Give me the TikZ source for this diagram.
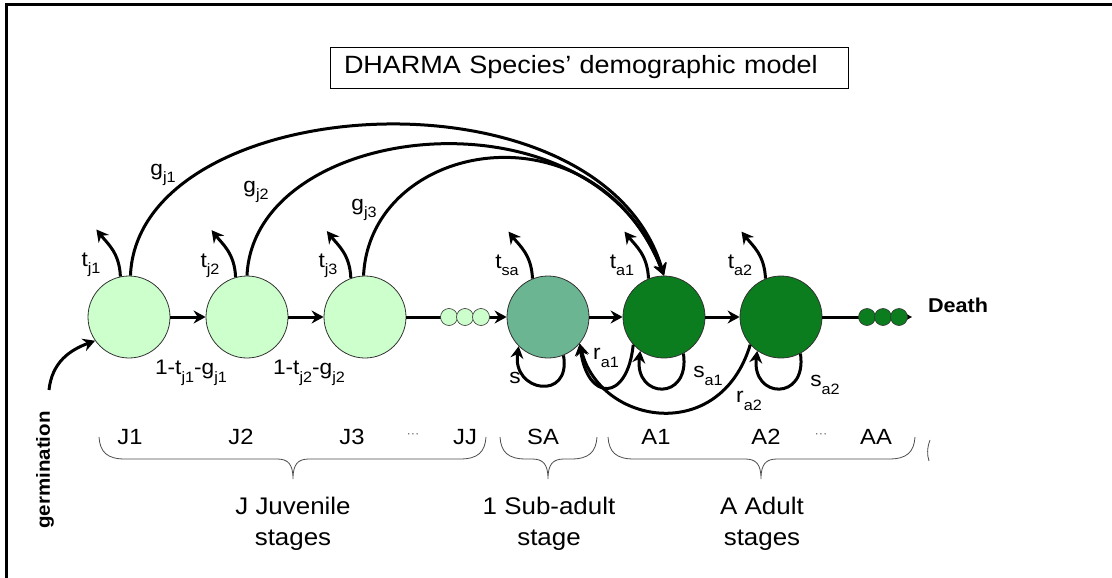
\documentclass[tikz,border=0pt]{standalone}
\usepackage{fontspec}
\setmainfont{Liberation Sans}[FakeStretch=1.08]
\usetikzlibrary{arrows.meta,calc}
\definecolor{jcol}{RGB}{204,255,204}
\definecolor{sacol}{RGB}{107,181,147}
\definecolor{acol}{RGB}{12,125,30}
\newcommand\sbx[1]{\raisebox{-0.35em}{\fontsize{15}{15}\selectfont #1}}
\newcommand\mybrace[3]{%
 \draw[brace] (#1,437) .. controls (#1+1,452) and (#1+8,459) .. (#1+26,459) -- (#2-16,459)
   .. controls (#2-5,459) and (#2,464) .. (#2,479)
   .. controls (#2,464) and (#2+5,459) .. (#2+16,459) -- (#3-26,459)
   .. controls (#3-8,459) and (#3-1,452) .. (#3,437);}
\begin{document}
\begin{tikzpicture}[x=1pt,y=-1pt,
 stage/.style={circle,draw=black!80,line width=0.8pt,minimum size=82pt,inner sep=0},
 dot/.style={circle,draw=black!80,line width=0.6pt,minimum size=17pt,inner sep=0},
 arr/.style={line width=3pt,-{Stealth[length=12pt,width=13pt,inset=4pt]}},
 lbl/.style={font=\fontsize{21}{21}\selectfont,inner sep=0},
 stg/.style={font=\fontsize{22}{22}\selectfont,inner sep=0},
 ell/.style={font=\fontsize{12}{12}\selectfont,text=black!60,inner sep=0},
 grp/.style={font=\fontsize{24}{31}\selectfont,align=center,inner sep=0},
 brace/.style={draw=black!70,line width=0.8pt},
]
\useasboundingbox (0,0) rectangle (1112,578);
\draw[line width=3pt] (6,578) -- (6,5) -- (1112,5);

% title
\node[draw,line width=0.8pt,text width=490pt,align=left,inner xsep=14pt,minimum height=41pt,
  font=\fontsize{25}{25}\selectfont] (title) at (589,67.5) {DHARMA Species’ demographic model};

% stages
\node[stage,fill=jcol] (J1) at (129,317) {};
\node[stage,fill=jcol] (J2) at (247,317) {};
\node[stage,fill=jcol] (J3) at (365,317) {};
\node[stage,fill=sacol] (SA) at (548,317) {};
\node[stage,fill=acol] (A1) at (664,317) {};
\node[stage,fill=acol] (A2) at (781,317) {};
\coordinate (dend) at (912,317);

% main line
\draw[arr] (J1) -- (J2);
\draw[arr] (J2) -- (J3);
\draw[arr] (J3) -- (SA);
\draw[arr] (SA) -- (A1);
\draw[arr] (A1) -- (A2);
\draw[arr] (A2) -- (dend);

\node[dot,fill=jcol] (d1) at (449,317) {};
\node[dot,fill=jcol] (d2) at (465,317) {};
\node[dot,fill=jcol] (d3) at (481,317) {};
\node[dot,fill=acol] (e1) at (867,317) {};
\node[dot,fill=acol] (e2) at (883,317) {};
\node[dot,fill=acol] (e3) at (899,317) {};

% t arrows
\coordinate (tj1) at ($(J1.102)+(-24,-47)$);
\coordinate (tj2) at ($(J2.106)+(-24,-47)$);
\coordinate (tj3) at ($(J3.110)+(-24,-47)$);
\coordinate (tsa) at ($(SA.112)+(-24,-47)$);
\coordinate (ta1) at ($(A1.112)+(-24,-47)$);
\coordinate (ta2) at ($(A2.112)+(-24,-47)$);
\draw[arr] (J1.102) .. controls +(-1,-24) and +(11,14) .. (tj1);
\draw[arr] (J2.106) .. controls +(-1,-24) and +(11,14) .. (tj2);
\draw[arr] (J3.110) .. controls +(-1,-24) and +(11,14) .. (tj3);
\draw[arr] (SA.112) .. controls +(-1,-24) and +(11,14) .. (tsa);
\draw[arr] (A1.112) .. controls +(-1,-24) and +(11,14) .. (ta1);
\draw[arr] (A2.112) .. controls +(-1,-24) and +(11,14) .. (ta2);

% g arcs
\draw[arr] (J1.88) .. controls (138,90) and (600,60) .. (A1.90);
\draw[arr] (J2.90) .. controls (254,120) and (592,83) .. (A1.90);
\draw[arr] (J3.92) .. controls (370,140) and (594,100) .. (A1.90);

% bottom loops
\draw[arr] (SA.-68) .. controls +(8,46) and +(-7,46) .. (SA.-135);
\draw[arr] (A1.-138) .. controls +(-6,58) and +(8,58) .. (SA.-40);
\draw[arr] (A1.-62) .. controls +(7,48) and +(-6,48) .. (A1.-125);
\draw[arr] (A2.-62) .. controls +(7,48) and +(-6,48) .. (A2.-125);
\draw[arr] (A2.-138) .. controls (720,445) and (600,425) .. (SA.-40);

% germination
\coordinate (g0) at (49,390);
\draw[arr] (g0) .. controls (52,362) and (70,350) .. (J1.-145);
\node[font=\bfseries\fontsize{19}{19}\selectfont,rotate=90,inner sep=0] (germ) at (45,470) {germination};

\node[font=\bfseries\fontsize{20}{20}\selectfont,inner sep=0] (death) at (958,305) {Death};

% labels
\node[lbl] (ltj1) at (91,265) {t\sbx{j1}};
\node[lbl] (ltj2) at (210,266) {t\sbx{j2}};
\node[lbl] (ltj3) at (328,266) {t\sbx{j3}};
\node[lbl] (ltsa) at (507,265) {t\sbx{sa}};
\node[lbl] (lta1) at (622,265) {t\sbx{a1}};
\node[lbl] (lta2) at (740,265) {t\sbx{a2}};
\node[lbl] (lgj1) at (163,175) {g\sbx{j1}};
\node[lbl] (lgj2) at (256,192) {g\sbx{j2}};
\node[lbl] (lgj3) at (364,210) {g\sbx{j3}};
\node[lbl] (l12) at (191,373) {1-t\sbx{j1}-g\sbx{j1}};
\node[lbl] (l23) at (309,373) {1-t\sbx{j2}-g\sbx{j2}};
\node[lbl] (ls) at (515,378) {s};
\node[lbl] (lra1) at (606,358) {r\sbx{a1}};
\node[lbl] (lsa1) at (708,376) {s\sbx{a1}};
\node[lbl] (lra2) at (749,401) {r\sbx{a2}};
\node[lbl] (lsa2) at (825,385) {s\sbx{a2}};

% stage names
\node[stg] (nJ1) at (130,437) {J1};
\node[stg] (nJ2) at (241,437) {J2};
\node[stg] (nJ3) at (352,437) {J3};
\node[ell] (nd1) at (413,436) {···};
\node[stg] (nJJ) at (465,437) {JJ};
\node[stg] (nSA) at (543,437) {SA};
\node[stg] (nA1) at (656,437) {A1};
\node[stg] (nA2) at (766,437) {A2};
\node[ell] (nd2) at (821,436) {···};
\node[stg] (nAA) at (876,437) {AA};

% braces
\mybrace{99}{293}{486}
\mybrace{500}{548}{597}
\mybrace{608}{761}{915}
\draw[brace] (930,440) .. controls (927,448) and (927,455) .. (929,461);

\node[grp] (gJ) at (293,524) {J Juvenile\\stages};
\node[grp] (gS) at (549,524) {1 Sub-adult\\stage};
\node[grp] (gA) at (762,524) {A Adult\\stages};
\end{tikzpicture}
\end{document}
